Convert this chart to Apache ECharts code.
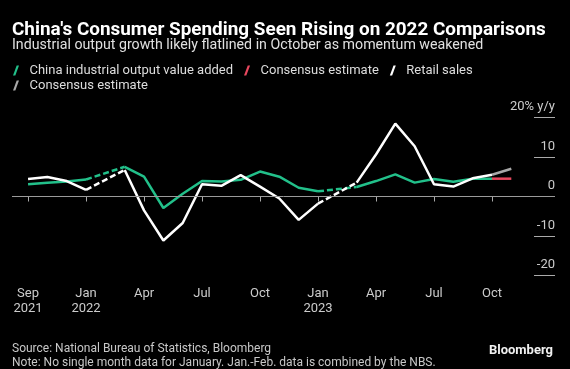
<!DOCTYPE html>
<html>
<head>
<meta charset="utf-8">
<script src="https://cdn.jsdelivr.net/npm/echarts@6/dist/echarts.min.js"></script>
<style>
html,body{margin:0;padding:0;background:#000;}
#chart{width:570px;height:369px;}
</style>
</head>
<body>
<div id="chart"></div>
<script>
// Month index: 0 = Sep 2021 ... 24 = Sep 2023, 25 = Oct 2023 (estimate)
// Jan (index 4 and 16) has no single-month data (Jan-Feb combined, shown at Feb)
const monthIndex = [0,1,2,3,4,5,6,7,8,9,10,11,12,13,14,15,16,17,18,19,20,21,22,23,24];
const industrialOutput = [3.1,3.5,3.8,4.3,null,7.5,5.0,-2.9,0.7,3.9,3.8,4.2,6.3,5.0,2.2,1.3,null,2.4,3.9,5.6,3.5,4.4,3.7,4.5,4.5];
const retailSales      = [4.4,4.9,3.9,1.7,null,6.7,-3.5,-11.1,-6.7,3.1,2.7,5.4,2.5,-0.5,-5.9,-1.8,null,3.5,10.6,18.4,12.7,3.1,2.5,4.6,5.5];
const estimateIndex = [24,25];
const industrialEstimate = [4.5,4.5];
const retailEstimate = [5.5,7.0];
const tickIndex = [0,3,6,9,12,15,18,21,24];
const tickLabels = ['Sep\n2021','Jan\n2022','Apr','Jul','Oct','Jan\n2023','Apr','Jul','Oct'];

const GREEN = '#22c08a', RED = '#e8475e', WHITE = '#ffffff', GRAY = '#a8a8a8';
const FONT = 'Roboto';

function solid(values){
  return monthIndex.map((m,k)=> values[k]==null ? [m,'-'] : [m, values[k]]);
}
function bridges(values){
  const out = [];
  values.forEach((v,k)=>{
    if(v==null && k>0 && k<values.length-1){
      if(out.length) out.push([monthIndex[k],'-']);
      out.push([monthIndex[k-1], values[k-1]]);
      out.push([monthIndex[k+1], values[k+1]]);
    }
  });
  return out;
}
function pairs(xs, ys){ return xs.map((x,k)=>[x, ys[k]]); }

const slash = 'path://M0,10 L2.3,10 L6,0 L3.7,0 Z';
const nameInd = 'China industrial output value added';
const nameEst1 = 'Consensus estimate (output)';
const nameRet = 'Retail sales';
const nameEst2 = 'Consensus estimate (retail)';
const legendCommon = {
  orient:'horizontal', left: 13, padding: 0, itemWidth: 7, itemHeight: 10, itemGap: 11,
  icon: slash, selectedMode: false,
  formatter: n => n.replace(/ \(.*\)$/, ''),
  textStyle: {color:'#dddddd', fontSize: 13, fontFamily: FONT, padding:[0,0,0,5]}
};

const chart = echarts.init(document.getElementById('chart'), null, {renderer:'canvas'});
chart.setOption({
  backgroundColor: '#000',
  animation: false,
  title: [
    {text: "China's Consumer Spending Seen Rising on 2022 Comparisons", left: 12, top: 20, padding: 0,
     textStyle:{color:'#fff', fontSize:18.9, fontWeight:'bold', fontFamily: FONT, lineHeight:21}},
    {text: 'Industrial output growth likely flatlined in October as momentum weakened', left: 12, top: 37, padding: 0,
     textStyle:{color:'#e0e0e0', fontSize:14.2, fontWeight:'normal', fontFamily: FONT, lineHeight:17}},
    {text: 'Source: National Bureau of Statistics, Bloomberg\nNote: No single month data for January. Jan.-Feb. data is combined by the NBS.',
     left: 12, top: 342.5, padding: 0,
     textStyle:{color:'#c8c8c8', fontSize:12, fontWeight:'normal', fontFamily: FONT, lineHeight:13.5}},
    {text: 'Bloomberg', right: 17, top: 343, padding: 0,
     textStyle:{color:'#f0f0f0', fontSize:13, fontWeight:'bold', fontFamily: FONT, lineHeight:15}}
  ],
  legend: [
    Object.assign({}, legendCommon, {top: 64, data:[
      {name: nameInd, itemStyle:{color:GREEN}},
      {name: nameEst1, itemStyle:{color:RED}},
      {name: nameRet, itemStyle:{color:WHITE}}
    ]}),
    Object.assign({}, legendCommon, {top: 79, data:[
      {name: nameEst2, itemStyle:{color:GRAY}}
    ]})
  ],
  grid: [
    {left: 12, right: 15, top: 117.3, bottom: 93.3, containLabel: false},
    {left: 534, right: 15, top: 117.3, bottom: 93.3, containLabel: false}
  ],
  xAxis: [{
    type:'value', min:-0.83, max:27.26,
    splitLine:{show:false},
    axisLine:{show:false},
    axisTick:{show:true, customValues: tickIndex, length:5, lineStyle:{color:'#aaaaaa'}},
    axisLabel:{show:true, customValues: tickIndex, margin:11, color:'#cccccc', fontSize:13, fontFamily: FONT, lineHeight:15,
      formatter: v => tickLabels[tickIndex.indexOf(Math.round(v))] || ''}
  }, {
    gridIndex:1, type:'value', min:0, max:1, show:false
  }],
  yAxis: [{
    type:'value', position:'right', min:-20, max:20, interval:10,
    splitLine:{show:false}, axisLine:{show:false}, axisTick:{show:false}, axisLabel:{show:false}
  }, {
    gridIndex:1, type:'value', position:'right', min:-20, max:20, interval:10,
    splitLine:{show:true, lineStyle:{color:'#aaaaaa', width:1}},
    axisLine:{show:false}, axisTick:{show:false},
    axisLabel:{inside:true, margin:0, verticalAlign:'bottom', padding:[0,0,4,0], color:'#cccccc', fontSize:13, fontFamily: FONT,
      formatter: v => v === 20 ? '20% y/y' : String(v)}
  }],
  series: [
    {type:'line', name:'ticks', xAxisIndex:1, yAxisIndex:1, data:[], silent:true},
    {type:'line', name:'zero', data:[], z:1, silent:true,
     markLine:{symbol:'none', silent:true, label:{show:false}, lineStyle:{color:'#9a9a9a', width:1, type:'solid'}, data:[{yAxis:0}]}},
    {type:'line', name:nameInd, data: solid(industrialOutput), showSymbol:false, symbol:'none',
     lineStyle:{color:GREEN, width:2.5}, itemStyle:{color:GREEN}, connectNulls:false, z:3},
    {type:'line', name:nameInd, data: bridges(industrialOutput), showSymbol:false, symbol:'none',
     lineStyle:{color:GREEN, width:2.5, type:[6,3]}, itemStyle:{color:GREEN}, connectNulls:false, z:3},
    {type:'line', name:nameEst1, data: pairs(estimateIndex, industrialEstimate), showSymbol:false, symbol:'none',
     lineStyle:{color:RED, width:2.5}, itemStyle:{color:RED}, z:3},
    {type:'line', name:nameRet, data: solid(retailSales), showSymbol:false, symbol:'none',
     lineStyle:{color:WHITE, width:2.5}, itemStyle:{color:WHITE}, connectNulls:false, z:4},
    {type:'line', name:nameRet, data: bridges(retailSales), showSymbol:false, symbol:'none',
     lineStyle:{color:WHITE, width:2.5, type:[6,3]}, itemStyle:{color:WHITE}, connectNulls:false, z:4},
    {type:'line', name:nameEst2, data: pairs(estimateIndex, retailEstimate), showSymbol:false, symbol:'none',
     lineStyle:{color:GRAY, width:2.5}, itemStyle:{color:GRAY}, z:4}
  ]
});
</script>
</body>
</html>
